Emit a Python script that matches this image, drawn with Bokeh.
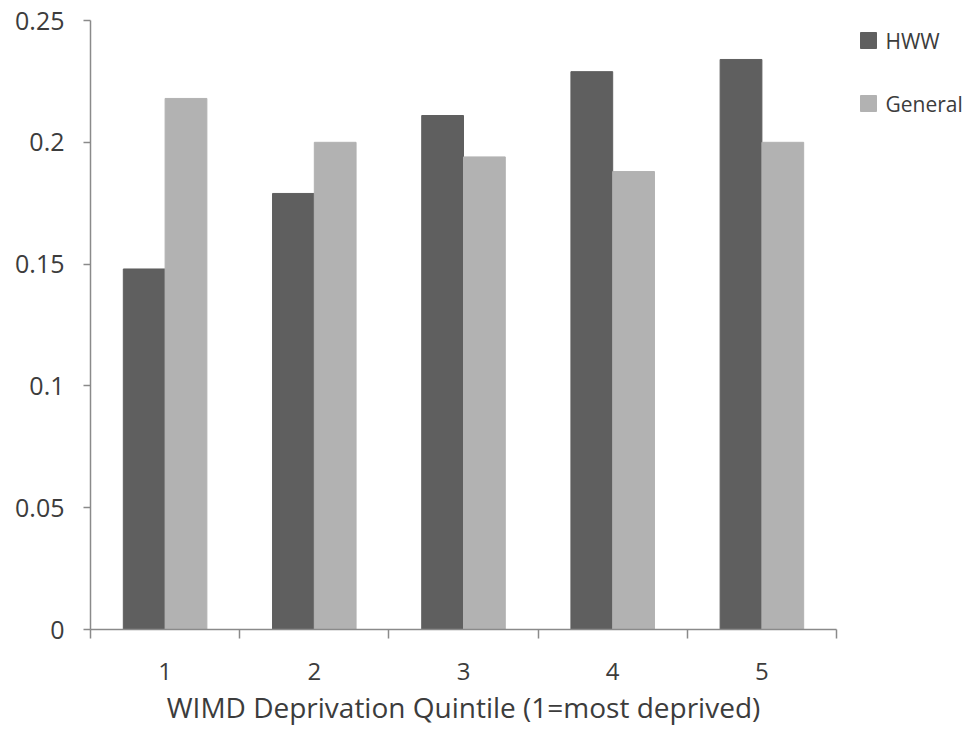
from bokeh.plotting import figure
from bokeh.layouts import row
from bokeh.models import (FixedTicker, CustomJSTickFormatter, ColumnDataSource, Range1d)
from bokeh.embed import file_html
from bokeh.resources import INLINE
from bokeh.core.properties import value

quintiles = [1, 2, 3, 4, 5]
tick_labels = ["1", "2", "3", "4", "5"]
series = ["HWW", "General"]
hww = [0.148, 0.179, 0.211, 0.229, 0.234]
general = [0.218, 0.200, 0.194, 0.188, 0.200]
y_ticks = [0, 0.05, 0.1, 0.15, 0.2, 0.25]

FONT = "Open Sans"
TXT = "#3c3c3c"
AX = "#8a8a8a"
C_HWW = "#5f5f5f"
C_GEN = "#b2b2b2"
BW = 0.28
H = 738
TOP = 20
BOTTOM = 109

p = figure(width=846, height=H, output_backend="svg", toolbar_location=None,
           x_range=Range1d(0.5, 5.5), y_range=Range1d(0, 0.25),
           min_border_left=90, min_border_right=10, min_border_top=TOP,
           min_border_bottom=BOTTOM)
p.background_fill_color = "white"
p.border_fill_color = "white"
p.outline_line_color = None
p.grid.visible = False

src = ColumnDataSource(dict(
    xh=[q - BW / 2 for q in quintiles],
    xg=[q + BW / 2 for q in quintiles],
    hww=hww, general=general))

p.vbar(x="xh", top="hww", bottom=0, width=BW, source=src,
       fill_color=C_HWW, line_color=C_HWW, line_width=1)
p.vbar(x="xg", top="general", bottom=0, width=BW, source=src,
       fill_color=C_GEN, line_color=C_GEN, line_width=1)

# x axis
xa = p.xaxis[0]
xa.ticker = FixedTicker(ticks=quintiles,
                        minor_ticks=[q - 0.5 for q in quintiles] + [5.5])
xa.major_label_overrides = {q: l for q, l in zip(quintiles, tick_labels)}
xa.major_tick_line_color = None
xa.major_tick_out = 0
xa.major_tick_in = 0
xa.minor_tick_line_color = AX
xa.minor_tick_line_width = 1.5
xa.minor_tick_out = 9
xa.minor_tick_in = 0
xa.axis_line_color = AX
xa.axis_line_width = 1.5
xa.major_label_text_font = FONT
xa.major_label_text_font_size = "24px"
xa.major_label_text_color = TXT
xa.major_label_standoff = 24
xa.axis_label = "WIMD Deprivation Quintile (1=most deprived)"
xa.axis_label_text_font = FONT
xa.axis_label_text_font_size = "28px"
xa.axis_label_text_font_style = "normal"
xa.axis_label_text_color = TXT
xa.axis_label_standoff = 5

# y axis
ya = p.yaxis[0]
ya.ticker = FixedTicker(ticks=y_ticks, minor_ticks=[])
ya.formatter = CustomJSTickFormatter(code="""
    let s = tick.toFixed(2);
    s = s.replace(/0+$/, '').replace(/\\.$/, '');
    return s;
""")
ya.major_tick_line_color = AX
ya.major_tick_line_width = 1.5
ya.major_tick_out = 7
ya.major_tick_in = 0
ya.minor_tick_line_color = None
ya.axis_line_color = AX
ya.axis_line_width = 1.5
ya.major_label_text_font = FONT
ya.major_label_text_font_size = "25px"
ya.major_label_text_color = TXT
ya.major_label_standoff = 19

# legend panel (frame aligned with the main plot's frame; y in screen pixels)
lg = figure(width=124, height=H, output_backend="svg", toolbar_location=None,
            x_range=Range1d(0, 124), y_range=Range1d(H - BOTTOM, TOP),
            x_axis_type=None, y_axis_type=None,
            min_border_left=0, min_border_right=0, min_border_top=TOP,
            min_border_bottom=BOTTOM)
lg.outline_line_color = None
lg.grid.visible = False
lg.background_fill_color = "white"
lg.border_fill_color = "white"
lsrc = ColumnDataSource(dict(x=[22, 22], y=[40, 103], tx=[39, 39],
                             label=series, color=[C_HWW, C_GEN]))
lg.rect(x="x", y="y", width=16, height=16, source=lsrc,
        fill_color="color", line_color="color")
lg.text(x="tx", y="y", text="label", source=lsrc,
        text_font=value(FONT), text_font_size="21px", text_color=TXT,
        text_baseline="middle", text_align="left")

layout = row(p, lg)
open("out.html", "w").write(file_html(layout, INLINE))
